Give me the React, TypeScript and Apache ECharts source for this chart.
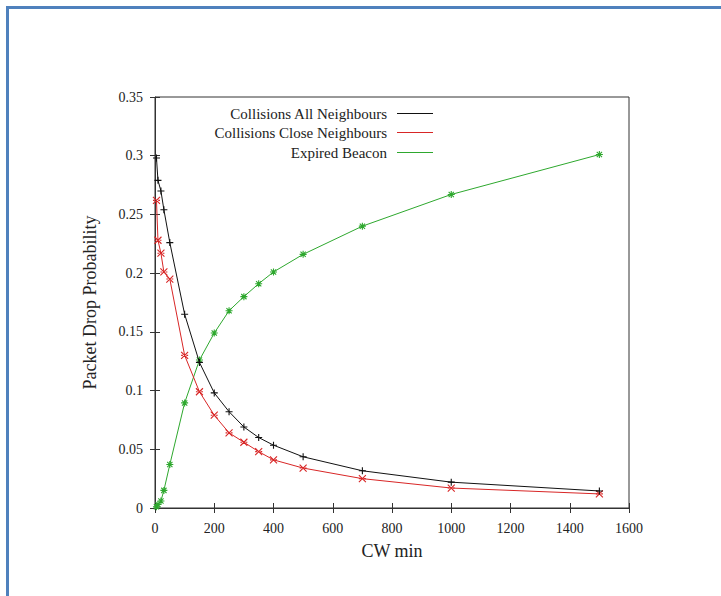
import React, { useEffect, useRef } from "react";
import * as echarts from "echarts";

const CW = [5, 10, 20, 30, 50, 100, 150, 200, 250, 300, 350, 400, 500, 700, 1000, 1500];
const ALL_NEIGHBOURS = [0.298, 0.279, 0.27, 0.254, 0.226, 0.165, 0.124, 0.098, 0.082, 0.069, 0.06, 0.0535, 0.0436, 0.0317, 0.022, 0.0145];
const CLOSE_NEIGHBOURS = [0.262, 0.228, 0.217, 0.201, 0.195, 0.13, 0.099, 0.079, 0.064, 0.056, 0.048, 0.041, 0.034, 0.025, 0.017, 0.012];
const EXPIRED_BEACON = [0.001, 0.003, 0.006, 0.015, 0.037, 0.0895, 0.126, 0.149, 0.168, 0.18, 0.191, 0.201, 0.216, 0.24, 0.267, 0.301];

const SERIES_NAMES = ["Collisions All Neighbours", "Collisions Close Neighbours", "Expired Beacon"];
const COLORS = ["#111111", "#d82626", "#2ea82e"];
const SYMBOLS = [
  "path://M0,4H8M4,0V8",
  "path://M0,0L8,8M8,0L0,8M0,4H2M6,4H8",
  "path://M0,4H8M4,0V8M1,1L7,7M7,1L1,7",
];

const FONT = "'Liberation Serif', 'DejaVu Serif', serif";

export default function App() {
  const ref = useRef<HTMLDivElement>(null);
  useEffect(() => {
    if (!ref.current) return;
    const chart = echarts.init(ref.current, undefined, { renderer: "svg" });
    const values = [ALL_NEIGHBOURS, CLOSE_NEIGHBOURS, EXPIRED_BEACON];
    const series = SERIES_NAMES.map((name, i) => ({
      name,
      type: "line",
      data: CW.map((x, j) => [x, values[i][j]]),
      symbol: SYMBOLS[i],
      symbolSize: 7,
      showSymbol: true,
      lineStyle: { color: COLORS[i], width: 1 },
      itemStyle: { color: COLORS[i], borderColor: COLORS[i], borderWidth: 1.1 },
      z: 3 - i,
    }));
    const legendTops = [101, 120, 140];
    const legends = SERIES_NAMES.map((name, i) => ({
      data: [{ name, itemStyle: { color: COLORS[i], borderWidth: 0 } }],
      right: 283,
      top: legendTops[i],
      align: "right",
      icon: "rect",
      itemWidth: 36,
      itemHeight: 1.2,
      selectedMode: false,
      textStyle: { fontFamily: FONT, fontSize: 15, color: "#222", padding: [0, 5, 0, 0] },
    }));
    chart.setOption({
      animation: false,
      backgroundColor: "#ffffff",
      textStyle: { fontFamily: FONT },
      grid: {
        left: 155,
        right: 92,
        top: 97,
        bottom: 88,
        show: true,
        borderColor: "#333",
        borderWidth: 1,
        backgroundColor: "transparent",
      },
      legend: legends,
      graphic: [
        {
          type: "rect",
          shape: { x: 7.5, y: 7.5, width: 800, height: 700 },
          style: { fill: "none", stroke: "#4f81bd", lineWidth: 3 },
          silent: true,
        },
      ],
      xAxis: [
        {
          type: "value",
          min: 0,
          max: 1600,
          interval: 200,
          name: "CW min",
          nameLocation: "middle",
          nameGap: 34,
          nameTextStyle: { fontFamily: FONT, fontSize: 18, color: "#222" },
          axisLine: { show: true, lineStyle: { color: "#333" } },
          axisTick: { show: true, inside: true, length: 5, lineStyle: { color: "#333" } },
          axisLabel: { fontFamily: FONT, fontSize: 14, color: "#222", margin: 13, formatter: (v: number) => String(v) },
          splitLine: { show: false },
        },
        {
          type: "value",
          position: "top",
          min: 0,
          max: 1600,
          interval: 200,
          axisLine: { show: false },
          axisTick: { show: true, inside: true, length: 5, lineStyle: { color: "#333" } },
          axisLabel: { show: false },
          splitLine: { show: false },
        },
      ],
      yAxis: [
        {
          type: "value",
          min: 0,
          max: 0.35,
          interval: 0.05,
          name: "Packet Drop Probability",
          nameLocation: "middle",
          nameGap: 56,
          nameRotate: 90,
          nameTextStyle: { fontFamily: FONT, fontSize: 18, color: "#222" },
          axisLine: { show: true, lineStyle: { color: "#333" } },
          axisTick: { show: true, inside: true, length: 5, lineStyle: { color: "#333" } },
          axisLabel: { fontFamily: FONT, fontSize: 14, color: "#222", margin: 12 },
          splitLine: { show: false },
        },
        {
          type: "value",
          position: "right",
          min: 0,
          max: 0.35,
          interval: 0.05,
          axisLine: { show: false },
          axisTick: { show: true, inside: true, length: 5, lineStyle: { color: "#333" } },
          axisLabel: { show: false },
          splitLine: { show: false },
        },
      ],
      series,
    });
    return () => chart.dispose();
  }, []);
  return (
    <div
      ref={ref}
      style={{ position: "fixed", left: 0, top: 0, width: 721, height: 596, background: "#fff" }}
    />
  );
}
